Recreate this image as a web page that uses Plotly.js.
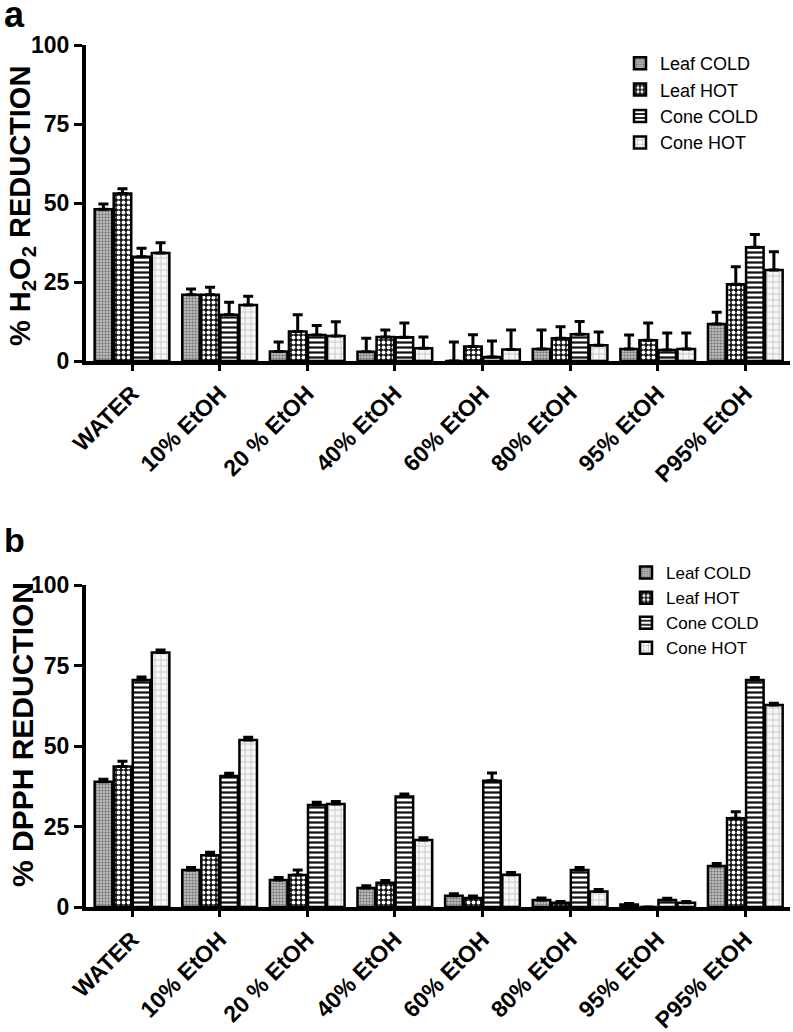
<!DOCTYPE html>
<html>
<head>
<meta charset="utf-8">
<script src="https://cdn.plot.ly/plotly-3.0.1.min.js"></script>
<style>
  html, body { margin: 0; padding: 0; background: #fff; }
  #chart { width: 793px; height: 1032px; }
</style>
</head>
<body>
<div id="chart"></div>
<script>
// ---------- DATA ----------
const categories = ["WATER", "10% EtOH", "20 % EtOH", "40% EtOH", "60% EtOH", "80% EtOH", "95% EtOH", "P95% EtOH"];
const seriesNames = ["Leaf COLD", "Leaf HOT", "Cone COLD", "Cone HOT"];

// Panel a: % H2O2 reduction
const leafColdA    = [48.0, 21.0, 3.0, 2.9, 0.0, 3.8, 3.8, 11.7];
const leafColdAErr = [1.7, 1.8, 3.0, 4.3, 6.0, 6.0, 4.4, 3.7];
const leafHotA     = [53.0, 21.0, 9.3, 7.6, 4.6, 7.2, 6.6, 24.3];
const leafHotAErr  = [1.5, 2.3, 5.3, 2.2, 3.7, 3.6, 5.4, 5.5];
const coneColdA    = [33.0, 14.6, 8.2, 7.5, 1.3, 8.5, 3.5, 36.0];
const coneColdAErr = [2.7, 4.0, 3.0, 4.5, 5.0, 4.0, 5.4, 4.0];
const coneHotA     = [34.2, 17.7, 7.9, 4.0, 3.6, 5.0, 3.8, 28.8];
const coneHotAErr  = [3.2, 2.8, 4.5, 3.6, 6.2, 4.2, 5.1, 5.8];

// Panel b: % DPPH reduction
const leafColdB    = [38.9, 11.5, 8.4, 5.9, 3.5, 2.2, 0.8, 12.7];
const leafColdBErr = [0.8, 0.8, 0.8, 0.7, 0.6, 0.6, 0.3, 0.8];
const leafHotB     = [43.6, 16.1, 9.9, 7.5, 2.8, 1.3, 0.0, 27.6];
const leafHotBErr  = [1.7, 0.9, 1.6, 0.7, 0.6, 0.4, 0.0, 2.0];
const coneColdB    = [70.5, 40.7, 31.7, 34.3, 39.2, 11.5, 2.2, 70.5];
const coneColdBErr = [0.9, 0.8, 0.8, 0.8, 2.4, 0.8, 0.5, 0.8];
const coneHotB     = [79.0, 51.9, 32.0, 20.8, 10.0, 4.8, 1.3, 62.7];
const coneHotBErr  = [0.8, 0.8, 0.8, 0.7, 0.7, 0.6, 0.4, 0.6];

const yTickVals = [0, 25, 50, 75, 100];
const yTickText = ["0", "25", "50", "75", "100"];

// ---------- STYLE ----------
const FONT = "Arial, 'Liberation Sans', Helvetica, sans-serif";
const patterns = [
  {shape: ".", fgcolor: "#7a7a7a", bgcolor: "#cdcdcd", size: 3, solidity: 0.5, fillmode: "replace"},
  {shape: ".", fgcolor: "#ffffff", bgcolor: "#141414", size: 5, solidity: 0.45, fillmode: "replace"},
  {shape: "-", fgcolor: "#111111", bgcolor: "#ffffff", size: 5, solidity: 0.45, fillmode: "replace"},
  {shape: "+", fgcolor: "#c8c8c8", bgcolor: "#f7f7f7", size: 6, solidity: 0.3, fillmode: "replace"}
];

function mkTrace(name, idx, vals, errs, xa, ya, legendId, show) {
  return {
    type: "bar",
    name: name,
    x: categories,
    y: vals,
    xaxis: xa,
    yaxis: ya,
    legend: legendId,
    showlegend: show,
    marker: {
      color: patterns[idx].bgcolor,
      pattern: patterns[idx],
      line: {color: "#000", width: 2.5}
    },
    error_y: {
      type: "data",
      symmetric: false,
      array: errs,
      arrayminus: errs.map(() => 0),
      color: "#000",
      thickness: 3,
      width: 5
    },
    hoverinfo: "skip"
  };
}

const dataA = [[leafColdA, leafColdAErr], [leafHotA, leafHotAErr], [coneColdA, coneColdAErr], [coneHotA, coneHotAErr]];
const dataB = [[leafColdB, leafColdBErr], [leafHotB, leafHotBErr], [coneColdB, coneColdBErr], [coneHotB, coneHotBErr]];

const traces = [];
dataA.forEach((d, i) => traces.push(mkTrace(seriesNames[i], i, d[0], d[1], "x", "y", "legend", true)));
dataB.forEach((d, i) => traces.push(mkTrace(seriesNames[i], i, d[0], d[1], "x2", "y2", "legend2", true)));

const W = 793, H = 1032;
const xDom = [86 / W, 790 / W];
const xRange = [-0.525, 7.51];

function xAxis(anchor) {
  return {
    domain: xDom,
    anchor: anchor,
    type: "category",
    range: xRange,
    showline: true, linecolor: "#000", linewidth: 4,
    ticks: "outside", ticklen: 6, tickwidth: 3, tickcolor: "#000",
    tickangle: -45,
    tickfont: {family: FONT, size: 23, color: "#000", weight: "bold"},
    showgrid: false, zeroline: false, fixedrange: true
  };
}
function yAxis(anchor, dom) {
  return {
    domain: dom,
    anchor: anchor,
    range: [0, 100],
    tickmode: "array", tickvals: yTickVals, ticktext: yTickText,
    showline: true, linecolor: "#000", linewidth: 4,
    ticks: "outside", ticklen: 8, tickwidth: 3, tickcolor: "#000",
    tickfont: {family: FONT, size: 23, color: "#000", weight: "bold"},
    showgrid: false, zeroline: false, fixedrange: true
  };
}

function legendCfg(x, y, size) {
  return {
    x: x, y: y,
    xanchor: "left", yanchor: "top",
    bgcolor: "rgba(0,0,0,0)",
    font: {family: FONT, size: size, color: "#000"},
    itemwidth: 30,
    tracegroupgap: 0
  };
}

const layout = {
  width: W, height: H,
  margin: {l: 0, r: 0, t: 0, b: 0},
  paper_bgcolor: "#fff", plot_bgcolor: "#fff",
  barmode: "group",
  bargap: 0.13,
  bargroupgap: 0.08,
  xaxis: xAxis("y"),
  yaxis: yAxis("x", [1 - 361 / H, 1 - 45 / H]),
  xaxis2: xAxis("y2"),
  yaxis2: yAxis("x2", [1 - 907 / H, 1 - 585 / H]),
  legend: legendCfg(620 / W, 1 - 45 / H, 18),
  legend2: legendCfg(626 / W, 1 - 555 / H, 17),
  annotations: [
    {text: "a", xref: "paper", yref: "paper", x: 2 / W, y: 1 - 14 / H, xanchor: "left", yanchor: "middle",
     showarrow: false, font: {family: FONT, size: 36, color: "#000", weight: "bold"}},
    {text: "b", xref: "paper", yref: "paper", x: 2 / W, y: 1 - 540 / H, xanchor: "left", yanchor: "middle",
     showarrow: false, font: {family: FONT, size: 34, color: "#000", weight: "bold"}},
    {text: "% H<sub>2</sub>O<sub>2</sub> REDUCTION", xref: "paper", yref: "paper", x: 22 / W, y: 1 - 206 / H,
     xanchor: "center", yanchor: "middle", textangle: -90, showarrow: false,
     font: {family: FONT, size: 29, color: "#000", weight: "bold"}},
    {text: "% DPPH REDUCTION", xref: "paper", yref: "paper", x: 22 / W, y: 1 - 735 / H,
     xanchor: "center", yanchor: "middle", textangle: -90, showarrow: false,
     font: {family: FONT, size: 30, color: "#000", weight: "bold"}}
  ]
};

Plotly.newPlot("chart", traces, layout, {staticPlot: true, displayModeBar: false});
</script>
</body>
</html>
